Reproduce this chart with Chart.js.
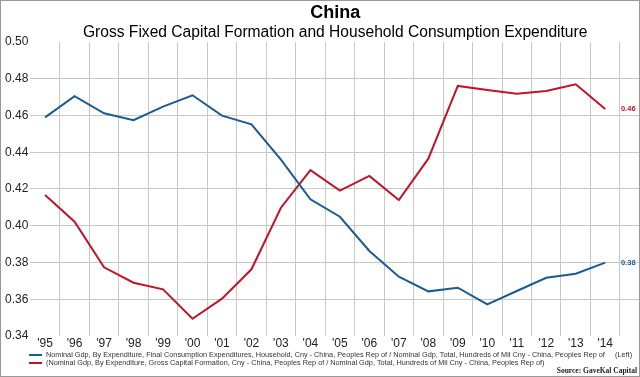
<!DOCTYPE html>
<html>
<head>
<meta charset="utf-8">
<title>China - Gross Fixed Capital Formation and Household Consumption Expenditure</title>
<script src="https://cdn.jsdelivr.net/npm/chart.js@4.4.1/dist/chart.umd.min.js"></script>
<style>
  html, body { margin: 0; padding: 0; background: #fff; }
  canvas { display: block; }
</style>
</head>
<body>
<canvas id="chart" width="640" height="377"></canvas>
<script>
// Rótulos do eixo X (anos)
const yearLabels = ["'95", "'96", "'97", "'98", "'99", "'00", "'01", "'02", "'03", "'04",
  "'05", "'06", "'07", "'08", "'09", "'10", "'11", "'12", "'13", "'14"];

// Consumo das famílias / PIB nominal (azul)
const householdShare = [0.459, 0.4705, 0.4612, 0.4574, 0.4648, 0.4710, 0.4599, 0.4552, 0.436, 0.4144,
  0.4049, 0.3863, 0.3723, 0.3643, 0.3663, 0.3572, 0.3645, 0.3717, 0.3739, 0.3799];

// Formação bruta de capital / PIB nominal (vermelho)
const capitalShare = [0.4167, 0.4022, 0.3774, 0.3690, 0.3654, 0.3494, 0.3603, 0.3763, 0.4098, 0.4303,
  0.4191, 0.4271, 0.4140, 0.4365, 0.4761, 0.4739, 0.4719, 0.4733, 0.4770, 0.4635];

// Eixo Y
const yMin = 0.34;
const yMax = 0.50;
const yStep = 0.02;

const seriesNames = [
  "Nominal Gdp, By Expenditure, Final Consumption Expenditures, Household, Cny - China, Peoples Rep of / Nominal Gdp, Total, Hundreds of Mil Cny - China, Peoples Rep of     (Left)",
  "(Nominal Gdp, By Expenditure, Gross Capital Formation, Cny - China, Peoples Rep of / Nominal Gdp, Total, Hundreds of Mil Cny - China, Peoples Rep of)",
];
const seriesColors = ["#1c5a96", "#c0142d"];

const titleText = "China";
const subtitleText = "Gross Fixed Capital Formation and Household Consumption Expenditure";
const sourceText = "Source: GaveKal Capital";

const FONT = "'Liberation Sans', Arial, sans-serif";
const GRID = "#c8c8c8";

// Títulos, legenda, fonte, rótulos finais e moldura
const extrasPlugin = {
  id: "extras",
  afterDraw(chart) {
    const { ctx, chartArea, scales } = chart;
    const cx = (chartArea.left + chartArea.right) / 2;
    ctx.save();

    // títulos
    ctx.fillStyle = "#000";
    ctx.textAlign = "center";
    ctx.textBaseline = "middle";
    ctx.font = "bold 18px " + FONT;
    ctx.fillText(titleText, cx, 13);
    ctx.font = "15.6px " + FONT;
    ctx.fillText(subtitleText, cx, 33);

    // rótulos de último valor
    const xEnd = scales.x.getPixelForValue(yearLabels.length - 0.5) + 1;
    ctx.textAlign = "left";
    ctx.font = "bold 7.5px " + FONT;
    chart.data.datasets.forEach((ds, i) => {
      const meta = chart.getDatasetMeta(i);
      const last = meta.data[meta.data.length - 1];
      ctx.fillStyle = seriesColors[i];
      ctx.fillText(ds.data[ds.data.length - 1].y.toFixed(2), xEnd, last.y);
    });

    // legenda
    ctx.font = "7.3px " + FONT;
    seriesNames.forEach((name, i) => {
      const y = 355 + i * 8;
      ctx.fillStyle = seriesColors[i];
      ctx.fillRect(29, y - 1, 13, 2);
      ctx.fillStyle = "#333";
      ctx.fillText(name, 46, y);
    });

    // fonte
    ctx.textAlign = "right";
    ctx.fillStyle = "#222";
    ctx.font = "bold 7.5px 'Liberation Serif', 'Times New Roman', serif";
    ctx.fillText(sourceText, 637, 371);

    // moldura
    ctx.strokeStyle = "#999";
    ctx.lineWidth = 1;
    ctx.strokeRect(0.5, 0.5, chart.width - 1, chart.height - 1);
    ctx.restore();
  },
};

const toPoints = (arr) => arr.map((v, i) => ({ x: i, y: v }));

new Chart(document.getElementById("chart").getContext("2d"), {
  type: "line",
  data: {
    datasets: [
      {
        label: seriesNames[0],
        data: toPoints(householdShare),
        borderColor: seriesColors[0],
        borderWidth: 2,
        pointRadius: 0,
        tension: 0,
      },
      {
        label: seriesNames[1],
        data: toPoints(capitalShare),
        borderColor: seriesColors[1],
        borderWidth: 2,
        pointRadius: 0,
        tension: 0,
      },
    ],
  },
  options: {
    responsive: false,
    animation: false,
    layout: { padding: { top: 42, left: 3, right: 0, bottom: 26.6 } },
    scales: {
      x: {
        type: "linear",
        min: -0.5,
        max: 20.18,
        border: { display: false },
        grid: {
          drawTicks: false,
          lineWidth: 1,
          // linhas verticais nos limites entre anos
          color: (c) => {
            const v = c.tick ? c.tick.value : 0;
            return Number.isInteger(v + 0.5) && v > 0 && v < yearLabels.length ? GRID : "transparent";
          },
        },
        ticks: {
          stepSize: 0.5,
          autoSkip: false,
          maxRotation: 0,
          padding: 0,
          color: "#222",
          font: { size: 12, family: FONT },
          callback: (v) => (Number.isInteger(v) && v >= 0 && v < yearLabels.length ? yearLabels[v] : ""),
        },
      },
      y: {
        min: yMin,
        max: yMax,
        border: { display: false },
        grid: {
          drawTicks: false,
          color: (c) => {
            const v = c.tick ? c.tick.value : yMin;
            return v > yMin + 0.001 && v < yMax - 0.001 ? GRID : "transparent";
          },
        },
        ticks: {
          stepSize: yStep,
          padding: 2,
          color: "#222",
          font: { size: 12, family: FONT },
          callback: (v) => v.toFixed(2),
        },
      },
    },
    plugins: {
      legend: { display: false },
      tooltip: { enabled: false },
    },
  },
  plugins: [extrasPlugin],
});
</script>
</body>
</html>
